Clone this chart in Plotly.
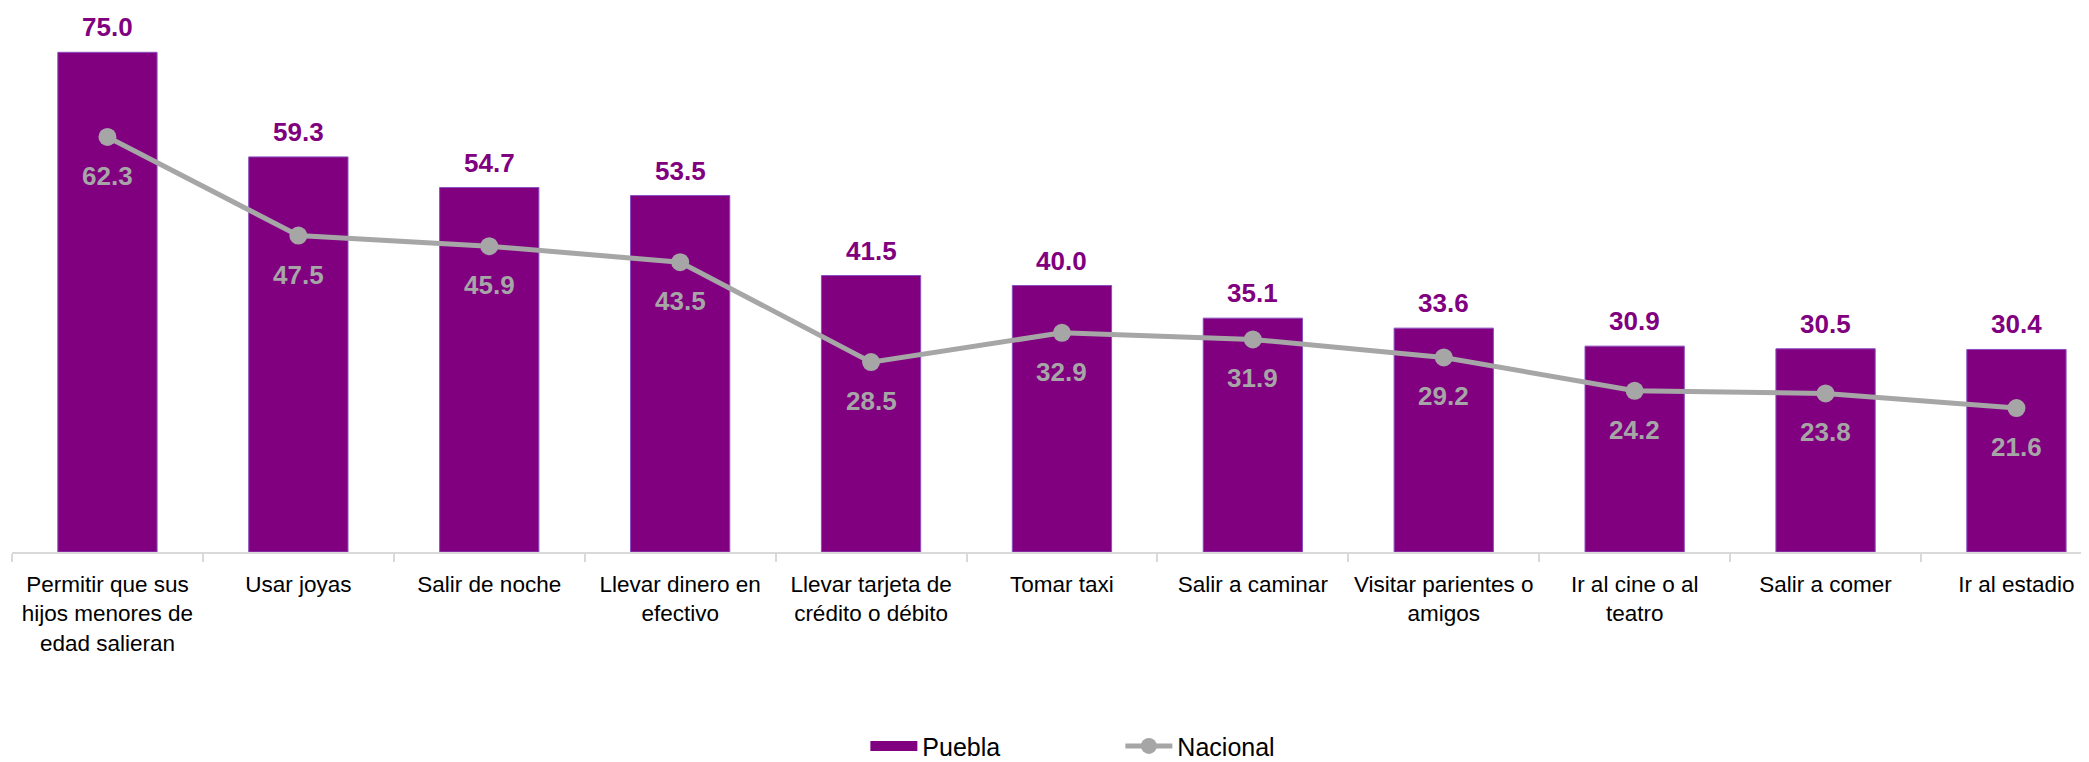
import plotly.graph_objects as go

categories = [
    "Permitir que sus<br>hijos menores de<br>edad salieran",
    "Usar joyas",
    "Salir de noche",
    "Llevar dinero en<br>efectivo",
    "Llevar tarjeta de<br>crédito o débito",
    "Tomar taxi",
    "Salir a caminar",
    "Visitar parientes o<br>amigos",
    "Ir al cine o al<br>teatro",
    "Salir a comer",
    "Ir al estadio",
]
puebla = [75.0, 59.3, 54.7, 53.5, 41.5, 40.0, 35.1, 33.6, 30.9, 30.5, 30.4]
nacional = [62.3, 47.5, 45.9, 43.5, 28.5, 32.9, 31.9, 29.2, 24.2, 23.8, 21.6]

PURPLE = "#800080"
GRAY = "#A6A6A6"
FONT = "Liberation Sans, Arial, sans-serif"

fig = go.Figure()
fig.add_trace(go.Bar(
    x=categories, y=puebla, name="Puebla", showlegend=False,
    marker=dict(color=PURPLE, line=dict(color="#8A4FC0", width=1)),
    width=0.52,
))
# legend-only swatch for the bars (wide rectangle like the original)
fig.add_trace(go.Scatter(
    x=[None], y=[None], name="Puebla", mode="lines",
    line=dict(color=PURPLE, width=20),
))
fig.add_trace(go.Scatter(
    x=categories, y=nacional, name="Nacional", mode="lines+markers",
    line=dict(color=GRAY, width=5),
    marker=dict(color=GRAY, size=18),
))

annotations = []
for c, v in zip(categories, puebla):
    annotations.append(dict(x=c, y=v, text=f"<b>{v:.1f}</b>", showarrow=False,
                            yshift=25, font=dict(size=26, color=PURPLE, family=FONT)))
for c, v in zip(categories, nacional):
    annotations.append(dict(x=c, y=v, text=f"<b>{v:.1f}</b>", showarrow=False,
                            yshift=-39, font=dict(size=26, color=GRAY, family=FONT)))

fig.update_layout(
    width=2081, height=754,
    margin=dict(l=4, r=0, t=11, b=210),
    plot_bgcolor="white", paper_bgcolor="white",
    font=dict(family=FONT, size=22, color="#000000"),
    annotations=annotations,
    showlegend=True,
    legend=dict(orientation="h", xref="container", yref="container",
                x=0.412, xanchor="left", y=0.021, yanchor="middle",
                font=dict(size=25, family=FONT), entrywidth=193, entrywidthmode="pixels",
                itemwidth=47, traceorder="normal"),
    bargap=0.48,
)
fig.update_xaxes(
    type="category", range=[-0.5, 10.38],
    showline=True, linecolor="#D9D9D9", linewidth=2,
    ticks="outside", tickson="boundaries", ticklen=8, tickcolor="#D9D9D9", tickwidth=2,
    ticklabelstandoff=11,
    tickfont=dict(size=22.5, color="#000000", family=FONT),
    showgrid=False,
)
fig.update_yaxes(range=[0, 80], visible=False, showgrid=False, zeroline=False)

fig.write_html("out.html")
